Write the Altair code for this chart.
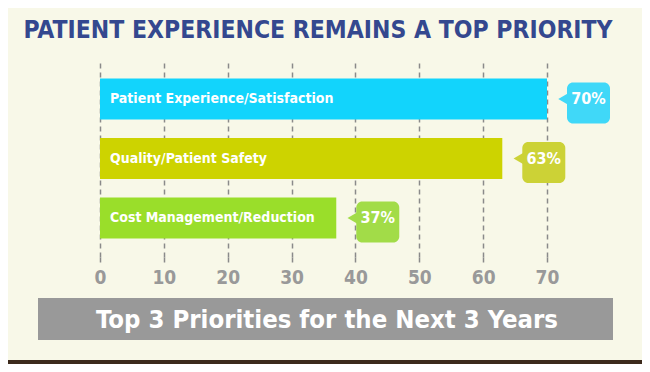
import altair as alt
import pandas as pd

categories = ["Patient Experience/Satisfaction", "Quality/Patient Safety", "Cost Management/Reduction"]
values = [70, 63, 37]
bar_colors = ["#12d4fc", "#cdd300", "#9ade2a"]
callout_colors = ["#40d8f8", "#ccd236", "#a2dc48"]
tick_values = [0, 10, 20, 30, 40, 50, 60, 70]
title_text = "PATIENT EXPERIENCE REMAINS A TOP PRIORITY"
subtitle_text = "Top 3 Priorities for the Next 3 Years"

df = pd.DataFrame({
    "cat": categories,
    "value": values,
    "bar_color": bar_colors,
    "callout_color": callout_colors,
    "label": [f"{v}%" for v in values],
})

COND = "'DejaVu Sans Condensed', Roboto, sans-serif"

W, H = 447, 197
x_scale = alt.Scale(domain=[0, 70], nice=False, zero=True)
y_scale = alt.Scale(domain=categories, padding=0.31)

x_axis = alt.Axis(
    values=tick_values, grid=True, gridDash=[5, 4], gridColor="#8a8a8a", gridWidth=1.5,
    domain=False, ticks=True, tickDash=[5, 4], tickColor="#8a8a8a", tickWidth=1.5, tickSize=5,
    labelFont=COND, labelFontWeight="bold", labelFontSize=19,
    labelColor="#999999", labelPadding=6, title=None, labelFlush=False,
)

X = alt.X("value:Q", scale=x_scale, axis=x_axis)
Y = alt.Y("cat:N", scale=y_scale, axis=None, sort=categories)

base = alt.Chart(df)

bars = base.mark_bar().encode(
    x=X, y=Y,
    color=alt.Color("bar_color:N", scale=None),
)

bar_labels = base.mark_text(
    align="left", baseline="middle", dx=10, color="white",
    font=COND, fontWeight="bold", fontSize=14,
).encode(
    x=alt.datum(0, scale=x_scale, axis=x_axis),
    y=Y,
    text="cat:N",
)

callout_box = base.mark_rect(
    xOffset=20, x2Offset=63, yOffset=4, y2Offset=-4, cornerRadius=6,
).encode(
    x=X, x2="value:Q", y=Y,
    color=alt.Color("callout_color:N", scale=None),
)

callout_ptr = base.mark_point(
    shape="triangle-left", filled=True, opacity=1, size=120, xOffset=16,
).encode(
    x=X, y=Y,
    color=alt.Color("callout_color:N", scale=None),
)

callout_text = base.mark_text(
    align="center", baseline="middle", dx=41.5, color="white",
    font=COND, fontWeight="bold", fontSize=16,
).encode(
    x=X, y=Y,
    text="label:N",
)

title = alt.Chart(pd.DataFrame({"t": [title_text]})).mark_text(
    align="center", baseline="middle", color="#34488f",
    font=COND, fontWeight="bold", fontSize=24.5,
).encode(x=alt.value(218), y=alt.value(-29), text="t:N")

banner = alt.Chart(pd.DataFrame({"t": [subtitle_text]})).mark_rect(
    color="#999999",
).encode(x=alt.value(-62), x2=alt.value(513), y=alt.value(238), y2=alt.value(280))

banner_text = alt.Chart(pd.DataFrame({"t": [subtitle_text]})).mark_text(
    align="center", baseline="middle", color="white",
    font=COND, fontWeight="bold", fontSize=25.5,
).encode(x=alt.value(227), y=alt.value(260), text="t:N")

bottom_bar = alt.Chart(pd.DataFrame({"t": [1]})).mark_rect(
    color="#3c2a1c",
).encode(x=alt.value(-92), x2=alt.value(542), y=alt.value(300), y2=alt.value(304))

chart = alt.layer(
    bars, bar_labels, callout_box, callout_ptr, callout_text,
    title, banner, banner_text, bottom_bar,
).properties(
    width=W, height=H,
    padding={"left": 92, "right": 95, "top": 52, "bottom": 107},
    autosize=alt.AutoSizeParams(type="none"),
    background="#f8f8e8",
).configure_view(stroke=None)

chart.save("out.html", embed_options={"renderer": "svg", "actions": False})
